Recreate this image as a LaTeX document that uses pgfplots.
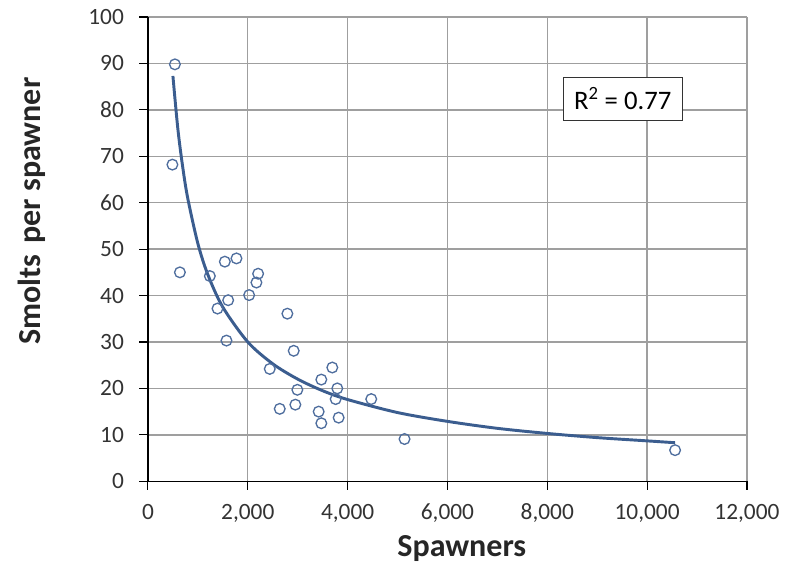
\documentclass[border=0pt]{standalone}
\usepackage{fontspec}
\setmainfont{Carlito}
\usepackage{pgfplots}
\pgfplotsset{compat=1.18}

\definecolor{fitblue}{HTML}{3B5D8F}
\definecolor{markblue}{HTML}{4F6E9E}

\begin{document}
\begin{tikzpicture}
\begin{axis}[
    scale only axis,
    width=449pt,
    height=348pt,
    xmin=0, xmax=12000,
    ymin=0, ymax=100,
    xtick={0,2000,4000,6000,8000,10000,12000},
    ytick={0,10,20,30,40,50,60,70,80,90,100},
    scaled x ticks=false,
    axis x line*=bottom,
    axis y line*=left,
    axis line style={black, line width=0.9pt},
    tick align=outside,
    major tick length=6.5pt,
    tick style={black, line width=0.8pt},
    grid=major,
    major grid style={line width=1pt, draw=gray!75},
    xticklabel style={/pgf/number format/fixed, /pgf/number format/1000 sep={,}},
    /pgf/number format/assume math mode=true,
    tick label style={font=\fontsize{17.5}{19}\selectfont, text=black!80},
    yticklabel style={xshift=-8pt},
    xticklabel style={yshift=-7pt},
    xlabel={\textbf{Spawners}},
    ylabel={\textbf{Smolts\,\,per spawner}},
    label style={font=\fontsize{24}{27}\selectfont, text=black!85},
    xlabel style={at={(axis description cs:0.524,-0.144)}, anchor=center},
    ylabel style={at={(axis description cs:-0.194,0.582)}, anchor=center, rotate=0},
    clip=false,
]
% observed points
\addplot[only marks, mark=o, mark size=4pt, mark options={draw=markblue, line width=1pt}]
    coordinates {
        (540,89.8) (490,68.2) (640,45.0) (1240,44.2) (1540,47.3)
        (1773,48.0) (2207,44.7) (2173,42.8) (2027,40.1) (1607,39.0)
        (1393,37.2) (2793,36.1) (1573,30.3) (2920,28.1) (2440,24.2)
        (3693,24.5) (3473,21.9) (2993,19.7) (3793,20.0) (3760,17.7)
        (4473,17.7) (2640,15.6) (2953,16.5) (3420,15.0) (3473,12.5)
        (3820,13.7) (5140,9.1) (10560,6.7)
    };
% power fit
\addplot[color=fitblue, line width=2.2pt, smooth]
    coordinates {
        (500,87.3) (600,75.8) (700,67.4) (800,60.8) (1000,51.2)
        (1200,44.5) (1500,37.5) (2000,30.0) (2500,25.3) (3000,22.0)
        (3500,19.5) (4000,17.6) (5000,14.8) (6000,12.9) (7000,11.4)
        (8000,10.3) (9000,9.4) (10000,8.7) (10560,8.3)
    };
\node[draw=black!80, line width=0.8pt, fill=white, inner sep=0pt,
      minimum width=89pt, minimum height=32pt,
      font=\fontsize{20}{22}\selectfont] at (axis cs:9510,82.4) {R\textsuperscript{2} = 0.77};
% page extent matching the reference margins
\path (rel axis cs:-0.247,-0.1746) rectangle (rel axis cs:1.0835,1.0366);
\end{axis}
\end{tikzpicture}
\end{document}
